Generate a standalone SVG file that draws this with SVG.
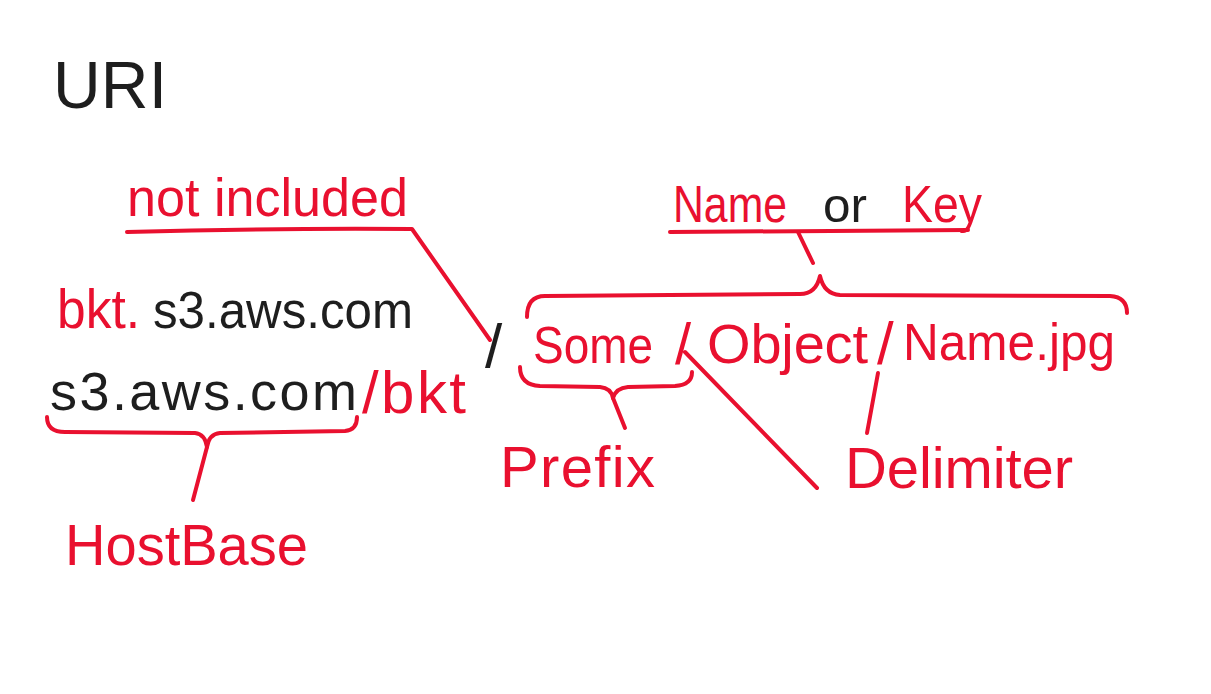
<svg xmlns="http://www.w3.org/2000/svg" width="1211" height="694" viewBox="0 0 1211 694">
<style>
  text { font-family: "Liberation Sans", "DejaVu Sans", sans-serif; }
  .r { fill: #e9102f; }
  .k { fill: #1e1e1e; }
  .ln { fill: none; stroke: #e9102f; stroke-width: 4; stroke-linecap: round; stroke-linejoin: round; }
</style>
<rect width="1211" height="694" fill="#ffffff"/>
<g id="title">
  <text class="k" x="53" y="108" font-size="66" textLength="114" lengthAdjust="spacing">URI</text>
</g>
<g id="not-included">
  <text class="r" x="127" y="216" font-size="54" textLength="281" lengthAdjust="spacingAndGlyphs">not included</text>
</g>
<g id="host-virtual">
  <text class="r" x="57" y="328" font-size="56" textLength="83" lengthAdjust="spacingAndGlyphs">bkt.</text>
  <text class="k" x="153" y="328" font-size="52" textLength="260" lengthAdjust="spacingAndGlyphs">s3.aws.com</text>
</g>
<g id="host-path">
  <text class="k" x="50" y="410" font-size="54" textLength="307" lengthAdjust="spacing">s3.aws.com</text>
  <text class="r" x="362" y="413" font-size="60" textLength="104" lengthAdjust="spacing">/bkt</text>
</g>
<g id="name-or-key">
  <text class="r" x="673" y="222" font-size="52" textLength="114" lengthAdjust="spacingAndGlyphs">Name</text>
  <text class="k" x="823" y="222" font-size="48" textLength="44" lengthAdjust="spacingAndGlyphs">or</text>
  <text class="r" x="902" y="222" font-size="52" textLength="80" lengthAdjust="spacingAndGlyphs">Key</text>
</g>
<g id="object-path">
  <text class="k" x="485" y="367" font-size="62">/</text>
  <text class="r" x="533" y="363" font-size="52" textLength="120" lengthAdjust="spacingAndGlyphs">Some</text>
  <text class="r" x="675" y="364" font-size="58">/</text>
  <text class="r" x="707" y="363" font-size="56" textLength="161" lengthAdjust="spacing">Object</text>
  <text class="r" x="877" y="364" font-size="60">/</text>
  <text class="r" x="903" y="360" font-size="52" textLength="212" lengthAdjust="spacingAndGlyphs">Name.jpg</text>
</g>
<g id="prefix">
  <text class="r" x="500" y="487" font-size="58" textLength="155" lengthAdjust="spacing">Prefix</text>
</g>
<g id="delimiter">
  <text class="r" x="845" y="488" font-size="58" textLength="228" lengthAdjust="spacing">Delimiter</text>
</g>
<g id="hostbase">
  <text class="r" x="65" y="565" font-size="58" textLength="243" lengthAdjust="spacingAndGlyphs">HostBase</text>
</g>
<g id="connectors">
  <path class="ln" d="M127,232 Q270,228 412,229 L490,340"/>
  <path class="ln" d="M670,232 L968,230"/>
  <path class="ln" d="M798,232 L813,263"/>
  <path class="ln" d="M527,317 Q527,296 545,296 L800,294 Q816,294 820,276 Q824,294 840,295 L1110,296 Q1127,297 1127,313"/>
  <path class="ln" d="M520,367 Q520,385 540,386 L600,387 Q611,388 613,398 Q616,388 628,387 L675,386 Q692,385 692,372"/>
  <path class="ln" d="M613,398 L625,428"/>
  <path class="ln" d="M47,417 Q47,432 65,432 L195,433 Q205,434 207,447 Q209,434 220,433 L345,431 Q357,430 357,417"/>
  <path class="ln" d="M207,447 L193,500"/>
  <path class="ln" d="M685,352 L817,488"/>
  <path class="ln" d="M878,373 L867,433"/>
</g>
</svg>
